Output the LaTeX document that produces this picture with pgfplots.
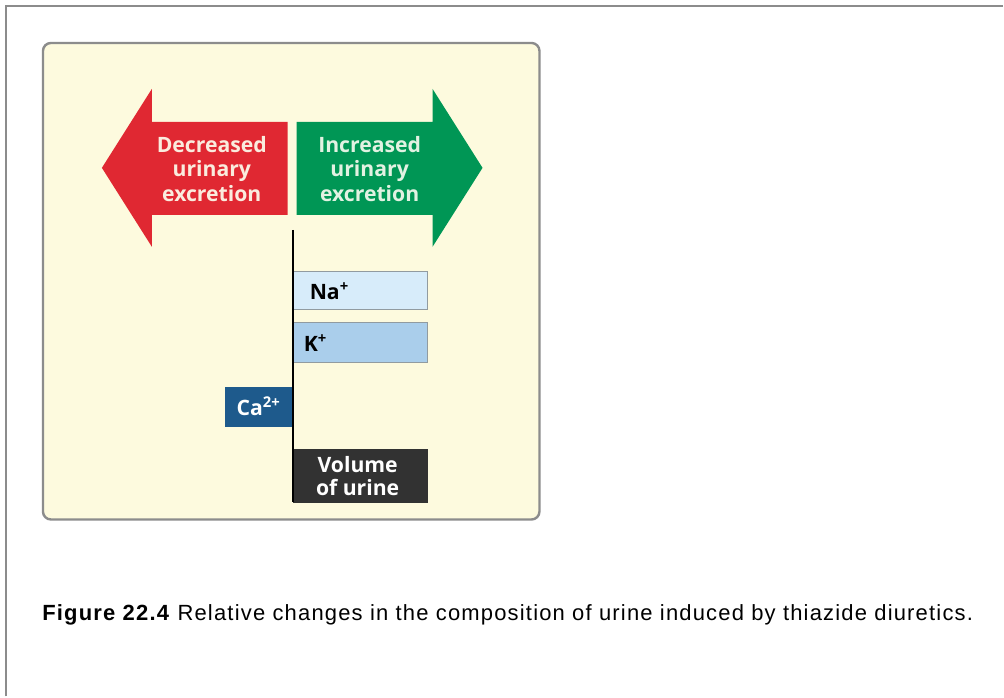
\documentclass[border=0pt]{standalone}
\usepackage{pgfplots}
\pgfplotsset{compat=1.18}
\usepackage{fontspec}
\setmainfont{Liberation Sans}
\newfontfamily\lblfont{Open Sans}
\newfontfamily\capfont[LetterSpace=5.4]{Liberation Sans}

\definecolor{cream}{RGB}{253,250,222}
\definecolor{panelgray}{RGB}{140,140,140}
\definecolor{arrowred}{RGB}{224,40,50}
\definecolor{arrowgreen}{RGB}{0,150,85}
\definecolor{redtext}{RGB}{250,236,222}
\definecolor{greentext}{RGB}{226,242,226}
\definecolor{nafill}{RGB}{215,236,250}
\definecolor{kfill}{RGB}{170,206,235}
\definecolor{cafill}{RGB}{30,90,140}
\definecolor{volfill}{RGB}{50,50,50}
\definecolor{barline}{RGB}{145,155,160}

\begin{document}
\begin{tikzpicture}
\begin{axis}[
  width=502pt, height=348.5pt, scale only axis,
  xmin=-293, xmax=711, ymin=0, ymax=697, y dir=reverse,
  hide axis, clip=false,
]
% page, outer frame and panel
\fill[white] (axis cs:-293,0) rectangle (axis cs:711,697);
\draw[panelgray, line width=1pt] (axis cs:-287,697) -- (axis cs:-287,6) -- (axis cs:711,6);
\draw[panelgray, fill=cream, line width=1.2pt, rounded corners=4pt]
  (axis cs:-250,43) rectangle (axis cs:247,520);

% arrows
\fill[arrowred] (axis cs:-5,122) -- (axis cs:-141,122) -- (axis cs:-141,89)
  -- (axis cs:-191,168) -- (axis cs:-141,247) -- (axis cs:-141,215)
  -- (axis cs:-5,215) -- cycle;
\fill[arrowgreen] (axis cs:4,122) -- (axis cs:140,122) -- (axis cs:140,89)
  -- (axis cs:190,168) -- (axis cs:140,247) -- (axis cs:140,215)
  -- (axis cs:4,215) -- cycle;
\node[align=center, text=redtext, font=\lblfont\bfseries\fontsize{10.6}{12.25}\selectfont]
  at (axis cs:-81,169) {Decreased\\urinary\\excretion};
\node[align=center, text=greentext, font=\lblfont\bfseries\fontsize{10.6}{12.25}\selectfont]
  at (axis cs:77,169) {Increased\\urinary\\excretion};

% bars: relative change, bar from the zero line
\addplot[xbar, bar shift=0pt, bar width=38, fill=nafill, draw=barline, line width=0.6pt]
  coordinates {(135,291)};
\addplot[xbar, bar shift=0pt, bar width=40, fill=kfill, draw=barline, line width=0.6pt]
  coordinates {(135,343)};
\addplot[xbar, bar shift=0pt, bar width=40, fill=cafill, draw=none]
  coordinates {(-68,407)};
\addplot[xbar, bar shift=0pt, bar width=54, fill=volfill, draw=none]
  coordinates {(135,476)};

% zero line
\draw[black, line width=1pt] (axis cs:0,230) -- (axis cs:0,502);

% bar labels
\node[anchor=west, font=\lblfont\bfseries\fontsize{10.6}{12}\selectfont]
  at (axis cs:10,291) {Na\textsuperscript{+}};
\node[anchor=west, font=\lblfont\bfseries\fontsize{10.6}{12}\selectfont]
  at (axis cs:4,343) {K\textsuperscript{+}};
\node[text=white, font=\lblfont\bfseries\fontsize{10.6}{12}\selectfont]
  at (axis cs:-34,407) {Ca\textsuperscript{2+}};
\node[align=center, text=white, font=\lblfont\bfseries\fontsize{10.6}{11.5}\selectfont]
  at (axis cs:65,477) {Volume\\of urine};

% caption
\node[anchor=west, inner sep=0pt, font=\capfont\fontsize{11}{13}\selectfont]
  at (axis cs:-251,615) {\textbf{Figure 22.4} Relative changes in the composition of urine induced by thiazide diuretics.};
\end{axis}
\end{tikzpicture}
\end{document}
